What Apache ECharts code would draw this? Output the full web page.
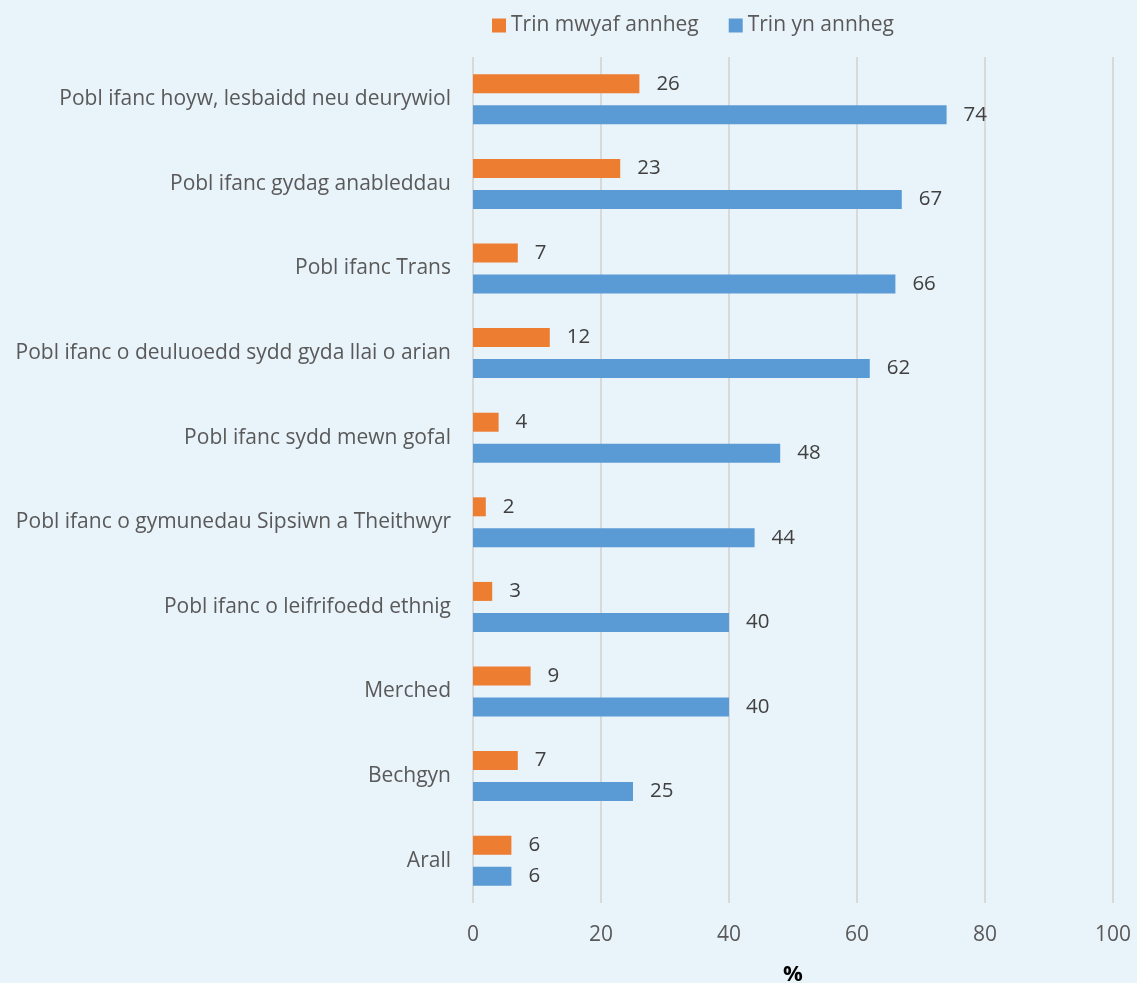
<!DOCTYPE html>
<html>
<head>
<meta charset="utf-8">
<script src="https://cdn.jsdelivr.net/npm/echarts@6/dist/echarts.min.js"></script>
<style>
html,body{margin:0;padding:0;background:#E9F3FA;}
#c{width:1137px;height:983px;}
</style>
</head>
<body>
<div id="c"></div>
<script>
const categories = [
  "Pobl ifanc hoyw, lesbaidd neu deurywiol",
  "Pobl ifanc gydag anableddau",
  "Pobl ifanc Trans",
  "Pobl ifanc o deuluoedd sydd gyda llai o arian",
  "Pobl ifanc sydd mewn gofal",
  "Pobl ifanc o gymunedau Sipsiwn a Theithwyr",
  "Pobl ifanc o leifrifoedd ethnig",
  "Merched",
  "Bechgyn",
  "Arall"
];
const seriesNames = ["Trin mwyaf annheg", "Trin yn annheg"];
const mostUnfair = [26, 23, 7, 12, 4, 2, 3, 9, 7, 6];
const unfair = [74, 67, 66, 62, 48, 44, 40, 40, 25, 6];
const xTicks = [0, 20, 40, 60, 80, 100];

const font = "'Open Sans', 'Noto Sans', sans-serif";
const chart = echarts.init(document.getElementById('c'), null, {renderer: 'canvas'});
const labelCfg = {show: true, position: 'right', distance: 17, color: '#404040', fontSize: 20.5, fontFamily: font};
chart.setOption({
  backgroundColor: '#E9F3FA',
  animation: false,
  legend: {
    top: 10, left: 487, itemWidth: 14, itemHeight: 14, itemGap: 30,
    icon: 'rect',
    textStyle: {color: '#595959', fontSize: 21, fontFamily: font},
    data: seriesNames
  },
  grid: {left: 473, right: 24, top: 57, bottom: 80, containLabel: false, outerBoundsMode: 'none'},
  xAxis: {
    type: 'value', min: xTicks[0], max: xTicks[xTicks.length - 1], interval: 20,
    name: '%', nameLocation: 'middle', nameGap: 61,
    nameTextStyle: {color: '#000', fontWeight: 'bold', fontSize: 22, fontFamily: font},
    axisLine: {show: false}, axisTick: {show: false},
    axisLabel: {color: '#595959', fontSize: 21, fontFamily: font, margin: 22},
    splitLine: {show: true, lineStyle: {color: '#D9D9D9', width: 2}}
  },
  yAxis: {
    type: 'category', data: categories, inverse: true,
    axisLine: {show: false}, axisTick: {show: false},
    axisLabel: {color: '#595959', fontSize: 21, fontFamily: font, margin: 22}
  },
  series: [
    {name: seriesNames[0], type: 'bar', data: mostUnfair, barWidth: 19, barGap: '63%',
     itemStyle: {color: '#ED7D31'}, label: labelCfg},
    {name: seriesNames[1], type: 'bar', data: unfair, barWidth: 19,
     itemStyle: {color: '#5B9BD5'}, label: labelCfg}
  ]
});
</script>
</body>
</html>
